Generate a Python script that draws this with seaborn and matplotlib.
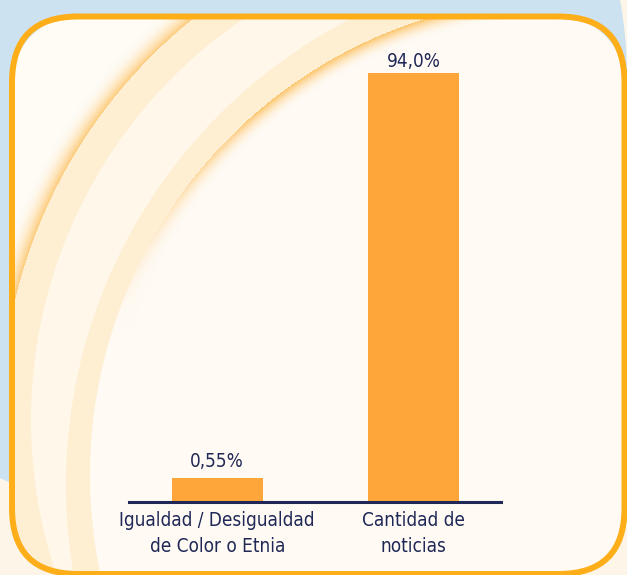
import numpy as np
import matplotlib
matplotlib.use("Agg")
import matplotlib.pyplot as plt
from matplotlib import font_manager as fm
from matplotlib.patches import FancyBboxPatch
import seaborn as sns

# ---------------- data ----------------
categories = ["Igualdad / Desigualdad\nde Color o Etnia", "Cantidad de\nnoticias"]
bar_heights = [5.2, 94.0]          # bar heights as drawn on the chart's scale
value_labels = ["0,55%", "94,0%"]  # printed labels

# ---------------- style ----------------
sns.set_theme(style="white")
plt.rcParams["font.family"] = ["Liberation Sans Narrow", "Liberation Sans", "DejaVu Sans"]

NAVY = "#1f2857"
BAR = "#ffa63a"
BORDER = "#fdae19"
BLUE = "#cce2f0"


def _w(v):
    if isinstance(v, (int, float)):
        return v
    return {"light": 300, "normal": 400, "regular": 400, "book": 400,
            "medium": 500}.get(str(v).lower(), 400)


def pick_condensed():
    best, score = None, None
    for f in fm.fontManager.ttflist:
        nm = f.name.lower()
        fn = f.fname.lower()
        st = str(f.stretch).lower()
        cond = ("narrow" in nm or "condensed" in nm or "condensed" in st
                or "narrow" in fn or "condensed" in fn)
        if not cond or f.style != "normal":
            continue
        if "extra" in nm or "ultra" in nm or "extra" in fn or "ultra" in fn:
            pen = 2
        elif "semi" in nm or "semi" in fn:
            pen = 1
        else:
            pen = 0
        s = pen * 1000 + abs(_w(f.weight) - 350)
        if score is None or s < score:
            best, score = f.fname, s
    return best


cond_path = pick_condensed()

W, H = 627, 575
fig = plt.figure(figsize=(W / 100, H / 100), dpi=100, facecolor=BLUE)
renderer = fig.canvas.get_renderer()


def make_fp(size):
    if cond_path:
        return fm.FontProperties(fname=cond_path, size=size)
    return fm.FontProperties(family=["Liberation Sans", "DejaVu Sans"], size=size)


def fitted_props(sample, target_px, base=16.0):
    fp = make_fp(base)
    w, _, _ = renderer.get_text_width_height_descent(sample, fp, ismath=False)
    fp.set_size(base * target_px / w)
    return fp


tick_fp = fitted_props("Igualdad / Desigualdad", 197.0)
val_fp = fitted_props("94,0%", 54.0)
_, lp_h, lp_d = renderer.get_text_width_height_descent("lp", tick_fp, ismath=False)
_, _, l1_d = renderer.get_text_width_height_descent("Igualdad / Desigualdad", tick_fp, ismath=False)
first_d = max(lp_d, l1_d)
tick_linespacing = (26.0 - first_d) / (lp_h - lp_d)

# ---------------- decorative background (one raster) ----------------
bg = fig.add_axes([0, 0, 1, 1])
bg.axis("off")

yy, xx = np.mgrid[0:H, 0:W] + 0.5
d1 = np.hypot(xx - 516, yy - 420)
d3 = np.hypot(xx - 590, yy - 485)
d4 = np.hypot(xx - 568, yy - 475)
dbg = np.hypot(xx - 186.4, yy - 78.7)


def rgb(h):
    h = h.lstrip("#")
    return np.array([int(h[i:i + 2], 16) for i in (0, 2, 4)], float) / 255


def layer(img, color, a):
    return img * (1 - a[..., None]) + rgb(color) * a[..., None]


def cover(d, r):
    return np.clip(r - d + 0.5, 0, 1)


# outside of the card: blue disc on a cream page
outside = np.ones((H, W, 3)) * rgb("#fdf5e7")
outside = layer(outside, BLUE, cover(dbg, 440.7))

# inside of the card
img = np.ones((H, W, 3)) * rgb("#fffcf6")
GLOW = "#fcb84a"
t = (d1 - 515) / 24
img = layer(img, GLOW, np.where((t >= 0) & (t < 1), 0.72 * (1 - np.clip(t, 0, 1)) ** 2.2, 0))
img = layer(img, "#feefd3", cover(d1, 515))
img = layer(img, "#fff7e9", cover(d1, 485))
img = layer(img, "#feefd3", cover(d3, 524))
img = layer(img, "#fffaf3", cover(d4, 478))
t = (478 - d4) / 18
fade = np.clip((330 - yy) / 220, 0, 1) ** 1.5
img = layer(img, GLOW, np.where((t >= 0) & (t < 1), 0.8 * fade * (1 - np.clip(t, 0, 1)) ** 2, 0))

# rounded-rectangle mask of the card
x0, x1, y0, y1, rr = 12, 624.5, 16.5, 574, 66
dx = np.maximum.reduce([x0 + rr - xx, np.zeros_like(xx), xx - (x1 - rr)])
dy = np.maximum.reduce([y0 + rr - yy, np.zeros_like(yy), yy - (y1 - rr)])
inside = np.clip(rr - np.hypot(dx, dy) + 0.5, 0, 1)
full = outside * (1 - inside[..., None]) + img * inside[..., None]

bg.imshow(full, extent=(0, W, H, 0), interpolation="nearest", zorder=1, aspect="auto")
bg.set_xlim(0, W)
bg.set_ylim(H, 0)
bg.add_patch(FancyBboxPatch((x0, y0), x1 - x0, y1 - y0,
                            boxstyle="round,pad=0,rounding_size=%g" % rr,
                            facecolor="none", edgecolor=BORDER, linewidth=4.3, zorder=3))

# ---------------- bar chart ----------------
px_per_unit_x = 196.5
x_left_px, x_right_px = 129.3, 501.0
base_px = 501.5
px_per_unit_y = 428.2 / 94.0
ymax = 100.0
ax_h_px = ymax * px_per_unit_y
ax = fig.add_axes([x_left_px / W, (H - base_px) / H,
                   (x_right_px - x_left_px) / W, ax_h_px / H])
ax.set_facecolor("none")
ax.patch.set_alpha(0)

sns.barplot(x=categories, y=bar_heights, color=BAR, saturation=1,
            width=91 / px_per_unit_x, linewidth=0, ax=ax, zorder=2)

ax.set_xlim((x_left_px - 217.2) / px_per_unit_x, (x_right_px - 217.2) / px_per_unit_x)
ax.set_ylim(0, ymax)
for s in ["top", "right", "left"]:
    ax.spines[s].set_visible(False)
ax.spines["bottom"].set_color(NAVY)
ax.spines["bottom"].set_linewidth(2.2)
ax.spines["bottom"].set_zorder(3)
ax.set_yticks([])
ax.set_xlabel("")
ax.set_ylabel("")
ax.tick_params(axis="x", length=0, pad=7, labelcolor=NAVY)
for lab in ax.get_xticklabels():
    lab.set_fontproperties(tick_fp)
    lab.set_linespacing(tick_linespacing)

gaps_px = [11, 6.6]
for i, (h, lbl) in enumerate(zip(bar_heights, value_labels)):
    ax.annotate(lbl, xy=(i, h), xytext=(0, gaps_px[i] * 0.72), textcoords="offset points",
                ha="center", va="baseline", fontproperties=val_fp, color=NAVY)

fig.savefig("out.png", dpi=100, facecolor=BLUE)
